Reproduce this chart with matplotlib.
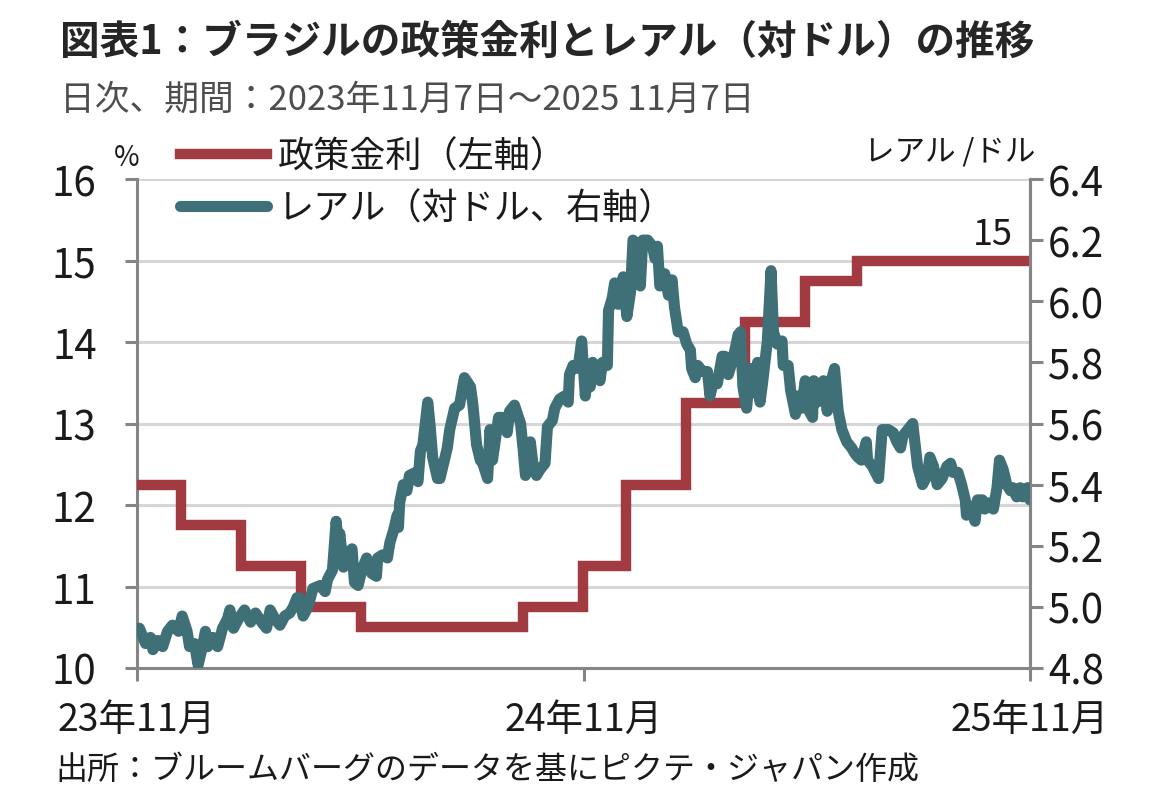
import matplotlib
matplotlib.use("Agg")
import matplotlib.pyplot as plt
import numpy as np
import pandas as pd

plt.rcParams['font.family'] = ['Noto Sans CJK JP', 'DejaVu Sans']

# 政策金利 (Copom の決定日と金利)
policy_dates = ['2023-11-07', '2023-12-13', '2024-01-31', '2024-03-20', '2024-05-08',
                '2024-09-18', '2024-11-06', '2024-12-11', '2025-01-29', '2025-03-19',
                '2025-05-07', '2025-06-18', '2025-11-07']
policy_rate = [12.25, 11.75, 11.25, 10.75, 10.50, 10.75, 11.25, 12.25, 13.25, 14.25,
               14.75, 15.00, 15.00]

# レアル/ドル : 2023-11-07 からの日数と値
brl_days = [0, 2, 7, 11, 13, 17, 21, 25, 29, 34, 37, 41, 43, 47, 50, 53, 56, 58, 62, 66,
            70, 74, 76, 79, 83, 88, 93, 97, 102, 106, 109, 113, 117, 121, 125, 128, 131, 133,
            136, 140, 144, 150, 154, 156, 160, 163, 165, 166, 169, 172, 176, 178, 181, 184,
            188, 192, 196, 197, 201, 205, 207, 210, 213, 214, 215, 218, 221, 223, 228, 230,
            232, 234, 238, 240, 242, 246,
            248, 254, 256, 260, 264, 268, 273, 275, 278, 281, 283, 287, 289, 291, 296, 300,
            303, 305, 309, 314, 316, 318, 322, 324, 327, 330, 334, 336, 340, 342, 346, 350,
            353, 354, 357, 361, 364, 367, 369,
            371, 373, 377, 379, 381, 385, 386, 389, 391, 394, 398, 401, 404, 406, 409, 412,
            414, 418, 422, 424, 426, 428, 432, 435, 438, 440, 443, 447, 450, 453, 454, 457,
            459, 463, 467, 469, 472, 475, 479, 481, 484, 487, 490, 492,
            494, 496, 499, 502, 504, 508, 510, 512, 516, 519, 521, 524, 528, 529, 533, 535,
            537, 539, 541, 544, 547, 549, 553, 554, 557, 562, 565, 567, 571, 574, 577, 581,
            585, 588, 590, 593, 597, 598, 602, 607,
            610, 615, 619, 622, 625, 627, 631, 635, 639, 641, 643, 647, 649, 652, 655, 659,
            663, 666, 668, 672, 675, 678, 679, 682, 686, 688, 692, 694, 697, 701, 704, 706,
            709, 712, 715, 717, 720, 723, 725, 729, 731]
brl_rate = [4.93, 4.93, 4.88, 4.90, 4.86, 4.89, 4.87, 4.92, 4.94, 4.92, 4.97, 4.92, 4.87, 4.88,
            4.81, 4.86, 4.92, 4.87, 4.90, 4.87, 4.93, 4.96, 4.99, 4.93, 4.96, 4.99, 4.95, 4.98,
            4.95, 4.93, 4.99, 4.96, 4.94, 4.97, 4.98, 5.00, 5.03, 5.03,
            4.97, 5.00, 5.06, 5.07, 5.05, 5.09, 5.12, 5.28, 5.20, 5.24, 5.13, 5.17, 5.19, 5.08,
            5.07, 5.12, 5.16, 5.11, 5.10, 5.16, 5.17, 5.16, 5.21, 5.25, 5.30, 5.26, 5.34, 5.40,
            5.38, 5.43, 5.44, 5.41, 5.51, 5.53, 5.67, 5.59, 5.49, 5.42,
            5.42, 5.52, 5.58, 5.65, 5.66, 5.75, 5.72, 5.66, 5.53, 5.48, 5.47, 5.42, 5.58, 5.48,
            5.62, 5.62, 5.57, 5.64, 5.66, 5.60, 5.52, 5.43, 5.54, 5.47, 5.43, 5.45, 5.47, 5.59,
            5.61, 5.65, 5.68, 5.69, 5.67, 5.76, 5.79, 5.78, 5.87, 5.69, 5.78,
            5.72, 5.80, 5.77, 5.74, 5.80, 5.79, 5.97, 6.01, 6.06, 5.99, 6.08, 5.95, 6.03, 6.20,
            6.18, 6.05, 6.20, 6.20, 6.18, 6.14, 6.18, 6.05, 6.09, 6.02, 6.07, 5.98, 5.90, 5.90,
            5.86, 5.84, 5.78, 5.75, 5.79, 5.77, 5.77, 5.69, 5.74, 5.73, 5.82, 5.82, 5.76, 5.80,
            5.85, 5.89,
            5.90, 5.72, 5.65, 5.78, 5.70, 5.80, 5.67, 5.73, 5.87, 6.10, 5.90, 5.86, 5.87, 5.79,
            5.79, 5.71, 5.67, 5.63, 5.69, 5.65, 5.74, 5.65, 5.62, 5.74, 5.67, 5.74, 5.64, 5.72,
            5.78, 5.64, 5.58, 5.54, 5.52, 5.50, 5.49, 5.48, 5.54, 5.48, 5.46, 5.42,
            5.58, 5.58, 5.57, 5.54, 5.52, 5.56, 5.58, 5.60, 5.46, 5.43, 5.40, 5.43, 5.49, 5.46,
            5.40, 5.42, 5.46, 5.47, 5.44, 5.44, 5.40, 5.35, 5.30, 5.33, 5.28, 5.35, 5.35, 5.32,
            5.34, 5.32, 5.39, 5.48, 5.45, 5.40, 5.38, 5.39, 5.36, 5.39, 5.36, 5.39, 5.35]

x_ticks = ['2023-11-07', '2024-11-07', '2025-11-07']
x_ticklabels = ['23年11月', '24年11月', '25年11月']

red = '#a23b41'
teal = '#3f6f77'
grid_c = '#d6d6d6'
spine_c = '#858585'
txt_c = '#1a1a1a'

start = pd.Timestamp('2023-11-07')
brl_dates = start + pd.to_timedelta(brl_days, unit='D')
p_dates = pd.to_datetime(policy_dates)

fig = plt.figure(figsize=(11.53, 8.12), dpi=100)
ax = fig.add_axes([137/1153, 1-669/812, (1030-137)/1153, (669-180)/812])
ax2 = ax.twinx()

l1, = ax.plot(p_dates, policy_rate, drawstyle='steps-post', color=red, lw=7.5,
              solid_joinstyle='miter', label='政策金利（左軸）', zorder=3)
l2, = ax2.plot(brl_dates, brl_rate, color=teal, lw=8, solid_joinstyle='round',
               solid_capstyle='round', label='レアル（対ドル、右軸）', zorder=4)

# 左軸を下に、右軸の線を上に
ax.set_zorder(1)
ax2.set_zorder(2)
ax.patch.set_visible(False)

ax.set_ylim(10, 16)
ax.set_yticks(np.arange(10, 17, 1))
ax2.set_ylim(4.8, 6.4)
ax2.set_yticks(np.arange(4.8, 6.41, 0.2))
ax2.set_yticklabels([f'{v:.1f}' for v in np.arange(4.8, 6.41, 0.2)])

ax.set_xlim(pd.Timestamp('2023-11-07'), pd.Timestamp('2025-11-07'))
ax.set_xticks(pd.to_datetime(x_ticks))
ax.set_xticklabels(x_ticklabels)

ax.grid(axis='y', color=grid_c, lw=2.2, zorder=0)
ax.set_axisbelow(True)

for a in (ax, ax2):
    a.spines['top'].set_visible(False)
    for s in ('left', 'right', 'bottom'):
        a.spines[s].set_color(spine_c)
        a.spines[s].set_linewidth(2.2)
ax2.spines['left'].set_visible(False)
ax2.spines['bottom'].set_visible(False)

ax.tick_params(axis='y', length=9, width=2.2, color=spine_c, labelsize=29, pad=20,
               labelcolor=txt_c)
ax.tick_params(axis='x', length=9, width=2.2, color=spine_c, labelsize=27, pad=14,
               labelcolor=txt_c)
ax2.tick_params(axis='y', length=9, width=2.2, color=spine_c, labelsize=29, pad=4,
                labelcolor=txt_c)

# 最終値ラベル
ax.annotate('15', xy=(pd.Timestamp('2025-11-07'), 15), xytext=(-12, 6),
            textcoords='offset points', ha='right', va='bottom', fontsize=26,
            color=txt_c)

ax.text(-0.011, 1.045, '%', transform=ax.transAxes, ha='center', va='center',
        fontsize=20, color=txt_c)
ax.text(1.006, 1.058, 'レアル /ドル', transform=ax.transAxes, ha='right', va='center',
        fontsize=22, color=txt_c)

leg = ax.legend(handles=[l1, l2], loc='center left',
                bbox_to_anchor=(180/1153, 1-183.5/812), bbox_transform=fig.transFigure,
                frameon=False, fontsize=26, handlelength=2.4, handletextpad=0.3,
                labelspacing=0.45, borderpad=0, borderaxespad=0)
leg.set_zorder(10)
for t in leg.get_texts():
    t.set_color(txt_c)

fig.text(60/1153, 1-42/812, '図表1：ブラジルの政策金利とレアル（対ドル）の推移',
         ha='left', va='center', fontsize=28.5, fontweight='bold', color='#262626')
fig.text(60/1153, 1-100/812, '日次、期間：2023年11月7日～2025 11月7日',
         ha='left', va='center', fontsize=25, color='#4d4d4d')
fig.text(55/1153, 1-770/812, '出所：ブルームバーグのデータを基にピクテ・ジャパン作成',
         ha='left', va='center', fontsize=23, color=txt_c)

plt.savefig('out.png', dpi=100)
